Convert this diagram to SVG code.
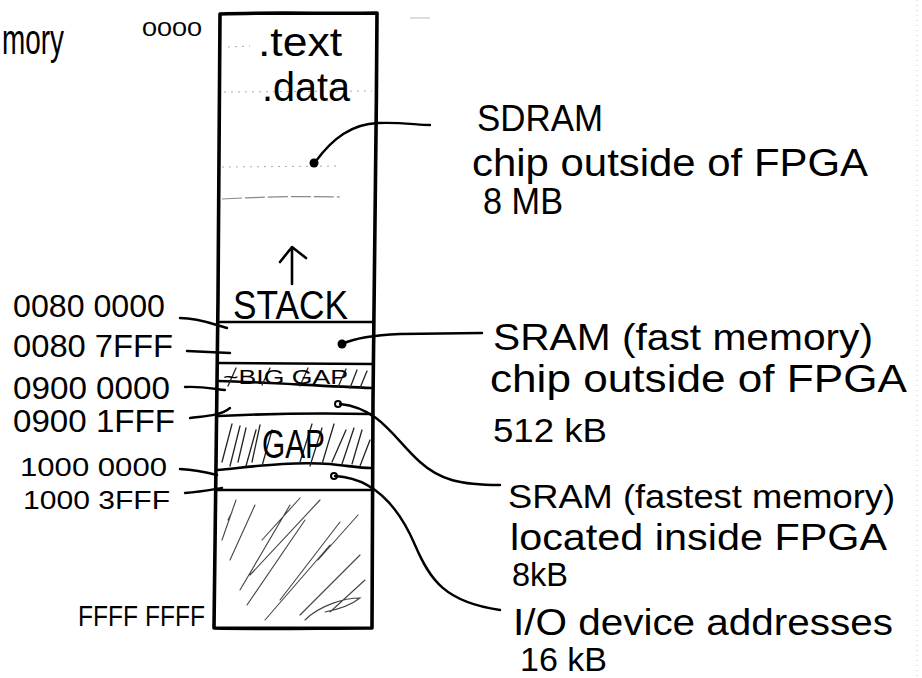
<svg xmlns="http://www.w3.org/2000/svg" width="922" height="678" viewBox="0 0 922 678">
<style>
text{font-family:"Liberation Sans","DejaVu Sans",sans-serif;fill:#000;}
.big{font-size:36px;}
.addr{font-size:32px;}
.ln{fill:none;stroke:#000;stroke-width:2.6;stroke-linecap:round;stroke-linejoin:round;}
.bord{fill:none;stroke:#000;stroke-width:3.6;stroke-linecap:round;stroke-linejoin:round;}
.conn{fill:none;stroke:#000;stroke-width:2.4;stroke-linecap:round;}
.hat{fill:none;stroke:#222;stroke-width:1.3;stroke-linecap:round;}
.hatl{fill:none;stroke:#444;stroke-width:1.1;stroke-linecap:round;}
.dot{fill:none;stroke:#aaa;stroke-width:1;stroke-dasharray:2 5;}
</style>
<rect width="922" height="678" fill="#fff"/>
<path d="M917,0 L917,678" stroke="#ccc" stroke-width="1" stroke-dasharray="1 4"/>
<path d="M410,18 L430,18" stroke="#bbb" stroke-width="1"/>

<g id="title">
<text x="2" y="54" font-size="42" textLength="62" lengthAdjust="spacingAndGlyphs">mory</text>
</g>

<g id="memory-column">
<path class="bord" d="M220,14 C270,12 330,14 377,13 C376,150 375,300 373,400 C372,500 372,580 372,628 C320,628 260,629 214,628 C215,500 217,380 218,300 C219,200 220,100 220,14 Z"/>
<path class="dot" d="M228,47 L250,46"/>
<path class="dot" d="M224,92 L372,91"/>
<path class="dot" d="M222,167 L340,166"/>
<path d="M222,199 C260,197 290,196 340,197" fill="none" stroke="#888" stroke-width="1.2" stroke-dasharray="20 3"/>
<path class="ln" d="M220,322 L373,322" stroke-width="3"/>
<path class="ln" d="M219,363 L373,364"/>
<path class="ln" d="M219,381 C260,382 320,386 372,388"/>
<path class="ln" d="M219,416 C260,414 320,413 371,414"/>
<path class="ln" d="M217,470 C250,467 290,461 330,464 C350,466 360,468 371,468"/>
<path class="ln" d="M217,490 L371,490" stroke-width="3"/>
</g>

<g id="text-data-section">
<text x="258" y="56" font-size="40" textLength="84" lengthAdjust="spacingAndGlyphs">.text</text>
<text x="262" y="101" font-size="40" textLength="88" lengthAdjust="spacingAndGlyphs">.data</text>
<circle cx="314" cy="163" r="4.5" fill="#000"/>
</g>

<g id="stack">
<path class="ln" d="M292,284 L292,249 M280,262 L292,247 L306,258" stroke-width="3"/>
<text x="233" y="319" font-size="40" textLength="115" lengthAdjust="spacingAndGlyphs">STACK</text>
</g>

<g id="sram-fast-band">
<circle cx="342" cy="344" r="4.5" fill="#000"/>
</g>

<g id="big-gap-band">
<path class="hat" d="M228,386 L236,368 M262,385 L270,368 M300,386 L308,368 M338,387 L346,369 M350,388 L357,370 M360,388 L367,371"/>
<text x="223" y="384" font-size="20" textLength="125" lengthAdjust="spacingAndGlyphs">~BIG GAP</text>
</g>

<g id="sram-fastest-band">
<circle cx="338" cy="404" r="3" fill="#fff" stroke="#000" stroke-width="2"/>
</g>

<g id="gap-band">
<path class="hat" d="M222,462 L232,424 M230,466 L240,426 M238,462 L246,428 M246,466 L256,430 M252,462 L260,425 M262,466 L272,430 M300,462 L312,424 M310,466 L322,428 M322,464 L334,424 M332,462 L346,430 M342,464 L354,428 M352,464 L362,430 M360,466 L370,440"/>
<text x="262" y="458" font-size="40" textLength="63" lengthAdjust="spacingAndGlyphs">GAP</text>
</g>

<g id="io-band">
<circle cx="334" cy="476" r="3" fill="#fff" stroke="#000" stroke-width="2"/>
</g>

<g id="unused-region">
<path class="hatl" d="M222,540 L236,500 M228,520 L232,512 M230,560 L255,505 M240,590 L290,505 M247,605 L305,520 M265,620 L330,545 M300,615 L360,555 M250,575 L320,500 M280,600 L340,522 M330,612 L365,580 M262,540 L300,498 M318,560 L358,515 M305,620 C320,605 345,598 360,598 C350,606 335,610 325,612"/>
</g>

<g id="address-labels">
<text x="142" y="36" font-size="20" textLength="60" lengthAdjust="spacingAndGlyphs">0000</text>
<text class="addr" x="13" y="317" textLength="152" lengthAdjust="spacingAndGlyphs">0080 0000</text>
<text class="addr" x="13" y="357" textLength="160" lengthAdjust="spacingAndGlyphs">0080 7FFF</text>
<text class="addr" x="13" y="399" textLength="157" lengthAdjust="spacingAndGlyphs">0900 0000</text>
<text class="addr" x="13" y="432" textLength="162" lengthAdjust="spacingAndGlyphs">0900 1FFF</text>
<text x="20" y="476" font-size="26" textLength="147" lengthAdjust="spacingAndGlyphs">1000 0000</text>
<text x="23" y="509" font-size="26" textLength="147" lengthAdjust="spacingAndGlyphs">1000 3FFF</text>
<text x="78" y="626" font-size="30" textLength="127" lengthAdjust="spacingAndGlyphs">FFFF FFFF</text>
</g>

<g id="label-sdram">
<text class="big" x="477" y="131" textLength="126" lengthAdjust="spacingAndGlyphs">SDRAM</text>
<text x="472" y="176" font-size="38" textLength="396" lengthAdjust="spacingAndGlyphs">chip outside of FPGA</text>
<text class="big" x="483" y="214" textLength="80" lengthAdjust="spacingAndGlyphs">8 MB</text>
</g>

<g id="label-sram-fast">
<text class="big" x="493" y="350" textLength="380" lengthAdjust="spacingAndGlyphs">SRAM (fast memory)</text>
<text x="490" y="392" font-size="38" textLength="417" lengthAdjust="spacingAndGlyphs">chip outside of FPGA</text>
<text x="493" y="442" font-size="34" textLength="114" lengthAdjust="spacingAndGlyphs">512 kB</text>
</g>

<g id="label-sram-fastest">
<text x="508" y="508" font-size="34" textLength="387" lengthAdjust="spacingAndGlyphs">SRAM (fastest memory)</text>
<text class="big" x="510" y="550" textLength="377" lengthAdjust="spacingAndGlyphs">located inside FPGA</text>
<text x="512" y="586" font-size="34" textLength="56" lengthAdjust="spacingAndGlyphs">8kB</text>
</g>

<g id="label-io">
<text class="big" x="513" y="635" textLength="380" lengthAdjust="spacingAndGlyphs">I/O device addresses</text>
<text x="520" y="671" font-size="34" textLength="87" lengthAdjust="spacingAndGlyphs">16 kB</text>
</g>

<g id="connectors">
<path class="conn" d="M316,161 C333,138 352,124 378,123 C400,122 418,125 430,125"/>
<path class="conn" d="M342,344 C355,338 375,335 400,334 L482,333"/>
<path class="conn" d="M340,404 C380,408 395,440 420,462 C440,480 460,485 500,485"/>
<path class="conn" d="M335,476 C375,478 400,510 415,545 C430,580 445,602 500,610"/>
<path class="conn" d="M180,318 C200,318 215,325 227,328"/>
<path class="conn" d="M187,351 L230,353"/>
<path class="conn" d="M185,387 C200,386 215,389 225,390"/>
<path class="conn" d="M190,418 C205,416 220,416 230,408"/>
<path class="conn" d="M180,469 C195,470 205,472 217,475"/>
<path class="conn" d="M185,493 C200,492 210,490 222,488"/>
</g>
</svg>
